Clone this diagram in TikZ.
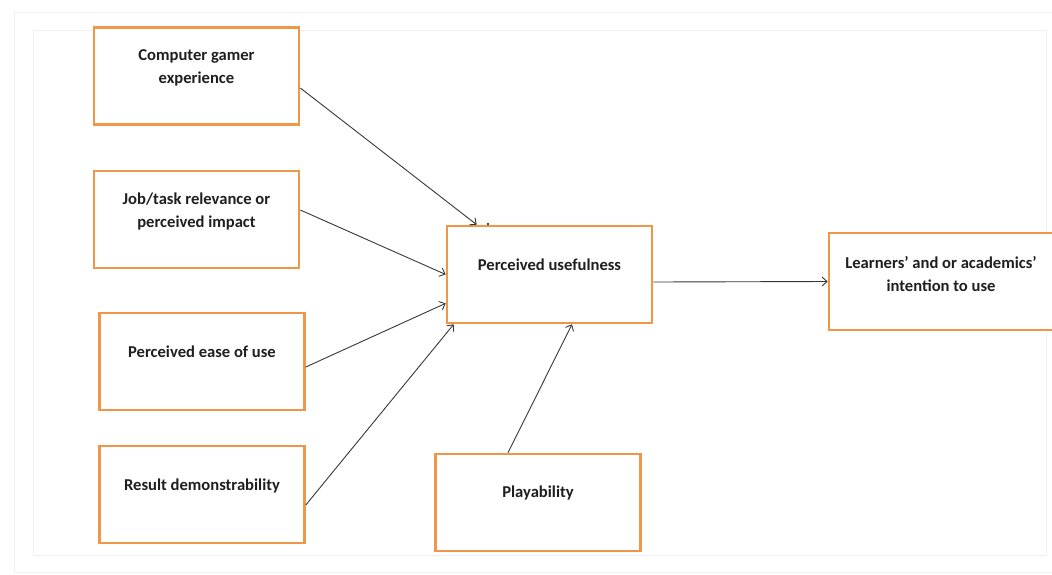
\documentclass[tikz,border=0pt]{standalone}
\usepackage{fontspec}
\setmainfont{Carlito}
\usetikzlibrary{arrows.meta}
\definecolor{boxorange}{RGB}{240,150,72}
\definecolor{arrowgray}{RGB}{55,55,55}
\definecolor{framegray}{RGB}{238,240,242}
\begin{document}
\begin{tikzpicture}[x=1pt,y=-1pt,
  box/.style={draw=boxorange,line width=2.6pt,fill=white,minimum width=205pt,minimum height=97pt,inner sep=0pt},
  txt/.style={font=\fontsize{16.6}{23}\selectfont\bfseries,align=center,text=black!88,inner sep=0pt},
  link/.style={draw=arrowgray,line width=0.9pt,-{Straight Barb[length=5pt,width=9pt]}}]
  \useasboundingbox (0,0) rectangle (1052,574);
  % faint page frame
  \draw[framegray,line width=0.8pt] (14,12) rectangle (1060,572);
  \draw[framegray,line width=0.8pt] (33,30) rectangle (1046,555);
  % factor boxes (text sits a little above the box centre)
  \node[box] (cge) at (196.5,76) {};
  \node[txt] (cge-t) at ([yshift=8]cge.center) {Computer gamer\\experience};
  \node[box] (job) at (196.5,219.5) {};
  \node[txt] (job-t) at ([yshift=8]job.center) {Job/task relevance or\\perceived impact};
  \node[box] (ease) at (202,361.5) {};
  \node[txt] (ease-t) at ([yshift=9.5]ease.center) {Perceived ease of use};
  \node[box] (res) at (202,494.5) {};
  \node[txt] (res-t) at ([yshift=8.5]res.center) {Result demonstrability};
  \node[box] (pu) at (549.5,274.5) {};
  \node[txt] (pu-t) at ([yshift=9.5]pu.center) {Perceived usefulness};
  \node[box] (play) at (538,502.5) {};
  \node[txt] (play-t) at ([yshift=9.5]play.center) {Playability};
  \node[box,minimum width=224pt] (int) at (941,281.5) {};
  \node[txt] (int-t) at ([yshift=7.5]int.center) {Learners’ and or academics’\\intention to use};
  % small mark on the top edge
  \fill[arrowgray] (488,224) circle (1.3pt);
  % connectors
  \draw[link] ([yshift=-12]cge.east) -- ([xshift=31]pu.north west);
  \draw[link] ([yshift=9.5]job.east) -- (pu.west);
  \draw[link] ([yshift=-5.5]ease.east) -- ([yshift=21]pu.south west);
  \draw[link] ([yshift=-10.5]res.east) -- ([xshift=8]pu.south west);
  \draw[link] ([xshift=-30]play.north) -- ([xshift=22.5]pu.south);
  \draw[link] ([yshift=-7.5]pu.east) -- (int.west);
\end{tikzpicture}
\end{document}
